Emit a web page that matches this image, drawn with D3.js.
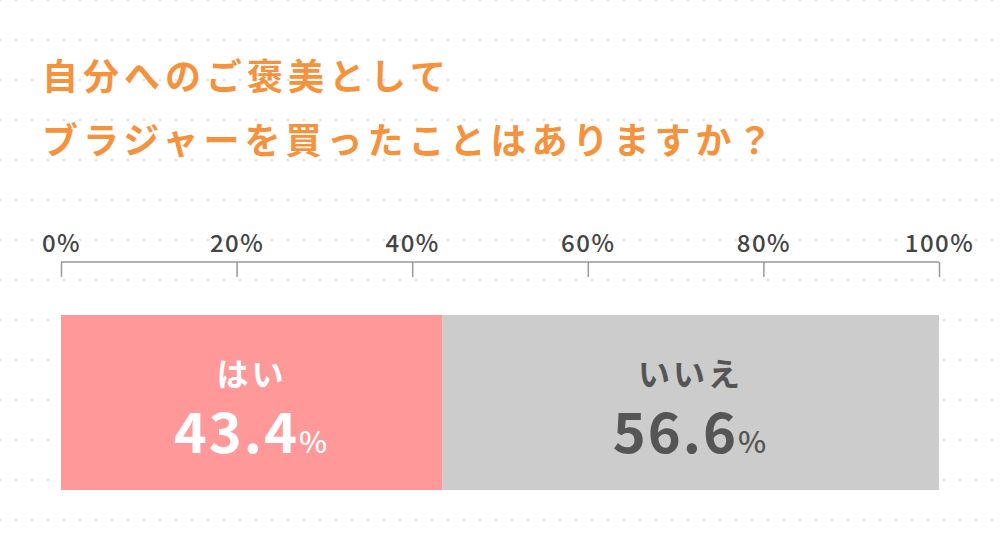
<!DOCTYPE html>
<html><head><meta charset="utf-8">
<script src="https://cdn.jsdelivr.net/npm/d3@7"></script>
<style>body{margin:0;background:#fff}</style></head>
<body><svg id="c" width="1000" height="550"></svg>
<script>
const categories = ["はい", "いいえ"];
const values = [43.4, 56.6];
const tickValues = [0, 20, 40, 60, 80, 100];
const titleLines = ["自分へのご褒美として", "ブラジャーを買ったことはありますか？"];
const colors = ["#ff9899", "#cccccc"];
const textColors = ["#ffffff", "#555555"];

const svg = d3.select("#c");
const font = "'Noto Sans CJK JP', 'Noto Sans', sans-serif";
const dots = svg.append("g");
for (let y = 0; y <= 550; y += 40) for (let x = 0; x <= 1000; x += 16)
  dots.append("circle").attr("cx", x).attr("cy", y).attr("r", 1.3).attr("fill", "#e2e2e2");

svg.selectAll(".t").data(titleLines).join("text")
  .attr("x", 42).attr("y", (d, i) => 90 + i * 64)
  .attr("font-family", font).attr("font-weight", 700).attr("font-size", 36)
  .attr("letter-spacing", 5)
  .attr("fill", "#f5923e").text(d => d);

const x = d3.scaleLinear().domain([0, 100]).range([61, 939]);
const ax = svg.append("g").attr("transform", "translate(0,262)")
  .call(d3.axisTop(x).tickValues(tickValues).tickSize(-15).tickSizeOuter(0).tickFormat(d => d + "%"));
ax.select(".domain").attr("stroke", "#999").attr("stroke-width", 1.5).attr("d", "M61,0H939");
ax.selectAll(".tick line").attr("stroke", "#999").attr("stroke-width", 1.5);
ax.selectAll(".tick text").attr("y", -10).attr("font-family", font).attr("font-size", 24)
  .attr("letter-spacing", 1.5).attr("fill", "#444").attr("font-weight", 500);

let cum = 0;
const segs = values.map((v, i) => { const s = { c: categories[i], v, x0: cum, i }; cum += v; return s; });
const g = svg.append("g");
g.selectAll("rect").data(segs).join("rect")
  .attr("x", d => x(d.x0)).attr("width", d => x(d.x0 + d.v) - x(d.x0))
  .attr("y", 315).attr("height", 175).attr("fill", d => colors[d.i]);
g.selectAll(".lab").data(segs).join("text")
  .attr("x", d => x(d.x0 + d.v / 2)).attr("y", 386).attr("text-anchor", "middle")
  .attr("font-family", font).attr("font-weight", 700).attr("font-size", 32).attr("letter-spacing", 3)
  .attr("fill", d => textColors[d.i]).text(d => d.c);
const vt = g.selectAll(".val").data(segs).join("text")
  .attr("x", d => x(d.x0 + d.v / 2)).attr("y", 453).attr("text-anchor", "middle")
  .attr("font-family", font).attr("font-weight", 700).attr("letter-spacing", 2)
  .attr("fill", d => textColors[d.i]);
vt.append("tspan").attr("font-size", 56).text(d => d.v.toFixed(1));
vt.append("tspan").attr("font-size", 30).attr("font-weight", 500).text("%");
</script></body></html>
